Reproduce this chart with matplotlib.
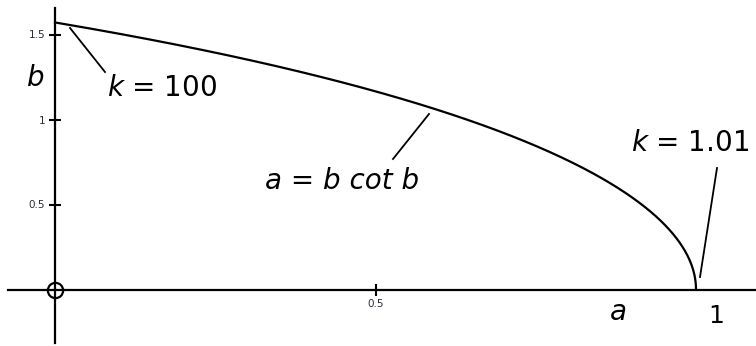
import numpy as np
import matplotlib
matplotlib.use("Agg")
import matplotlib.pyplot as plt

plt.rcParams['font.family'] = ['DejaVu Sans']
plt.rcParams['mathtext.fontset'] = 'dejavusans'

# curve a = b cot b, parametrised by b in (0, pi/2]
b = np.linspace(1e-4, np.pi / 2, 500)
a = b / np.tan(b)

x_ticks = [0.5]
y_ticks = [0.5, 1, 1.5]

W, H = 756, 346
fig = plt.figure(figsize=(W / 100, H / 100), dpi=100)
ax = fig.add_axes([0, 0, 1, 1])

# pixel position of the origin and scale (px per unit)
ox, oy, sx, sy = 55, 289.5, 641, 170
ax.set_xlim(-ox / sx, (W - ox) / sx)
ax.set_ylim(-(H - oy) / sy, oy / sy)


def px(x, y):
    return (x - ox) / sx, (oy - y) / sy


# axes through the origin
for side in ['top', 'right']:
    ax.spines[side].set_visible(False)
ax.spines['left'].set_position(('data', 0))
ax.spines['bottom'].set_position(('data', 0))
ax.spines['left'].set_bounds(px(0, 343)[1], px(0, 8)[1])
ax.spines['bottom'].set_bounds(px(8, 0)[0], px(W, 0)[0])
for s in ['left', 'bottom']:
    ax.spines[s].set_linewidth(1.6)

ax.set_xticks(x_ticks)
ax.set_yticks(y_ticks)
ax.set_xticklabels(['0.5'])
ax.set_yticklabels(['0.5', '1', '1.5'])
ax.tick_params(direction='inout', length=8, width=1.5, labelsize=7.5,
               labelcolor='#2a2a3a', pad=3)

ax.plot(a, b, color='black', lw=1.6)
ax.plot(0, 0, 'o', mfc='none', mec='black', ms=11, mew=1.6)

# labels and leader lines
ax.text(*px(36, 78), 'b', fontsize=20, fontstyle='italic', ha='center', va='center')
ax.text(*px(618, 312), 'a', fontsize=20, fontstyle='italic', ha='center', va='center')
ax.text(*px(716, 316), '1', fontsize=18, ha='center', va='center')
ax.text(*px(162, 88), '$k$ = 100', fontsize=20, ha='center', va='center')
ax.text(*px(342, 181), 'a = b cot b', fontsize=20, fontstyle='italic',
        ha='center', va='center')
ax.text(*px(690, 143), '$k$ = 1.01', fontsize=20, ha='center', va='center')

leaders = [((70, 28), (105, 72)), ((393, 159), (429, 114)), ((717, 168), (700, 277))]
for p0, p1 in leaders:
    x0, y0 = px(*p0)
    x1, y1 = px(*p1)
    ax.plot([x0, x1], [y0, y1], color='black', lw=1.3)

fig.savefig('out.png', dpi=100)
